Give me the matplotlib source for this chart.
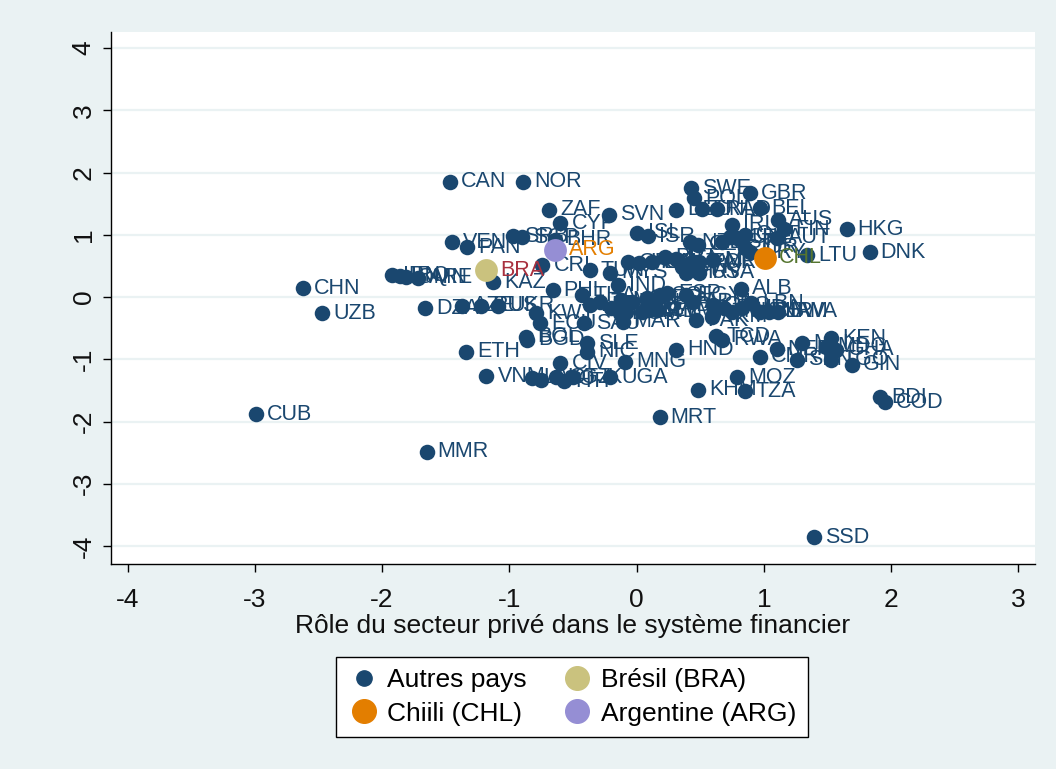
import matplotlib
matplotlib.use("Agg")
import matplotlib.pyplot as plt
from matplotlib.lines import Line2D

plt.rcParams['font.family'] = ['Liberation Sans', 'DejaVu Sans']
plt.rcParams['axes.unicode_minus'] = False

# ---- data -------------------------------------------------------------
codes = ["CAN","NOR","CHN","UZB","CUB","MMR","SSD","MRT","BDI","COD","DNK","HKG","LTU",
         "GBR","SWE","POL","DEU","FRA","NLD","BEL","AUS","FIN","AUT","ZAF","SVN","CYP",
         "VEN","PAN","SRB","SGP","BHR","KAZ","CRI","PHL","IRN","IRQ","OMN","ARE","DZA",
         "AZE","RUS","UKR","KWT","ECU","BGD","BOL","ETH","VNM","LAO","LSO","KGZ","HTI",
         "TJK","UGA","CIV","MNG","SLE","NIC","SAU","MAR","HND","TCD","RWA","CMR","NER",
         "MLI","MDG","GHA","KEN","SEN","TGO","GIN","MOZ","KHM","TZA","ALB","ISL","ISR",
         "TUN","MYS","GRC","HUN","LVA","PRT","ITA","JPN","KOR","MLT","SVK","HRV","USA",
         "NZL","CZE","EST","LUX","CHE","IRL","URY","JOR","QAT","THA","LKA","TUR","MEX",
         "IDN","PER","COL","ESP","BRB","SLV","GTM","DOM","JAM","PNG","GAB","EGY","ARM",
         "GEO","BIH","MKD","MDA","LBN","BLR","NAM","BWA","PAK","TKM","IND"]
x_vals = [-1.47,-0.89,-2.62,-2.47,-2.99,-1.65,1.39,0.18,1.91,1.95,1.83,1.65,1.34,
          0.89,0.43,0.45,0.31,0.51,0.63,0.97,1.11,1.16,1.10,-0.69,-0.22,-0.60,
          -1.45,-1.33,-0.97,-0.90,-0.64,-1.13,-0.74,-0.66,-1.92,-1.86,-1.81,-1.72,-1.66,
          -1.37,-1.22,-1.09,-0.79,-0.76,-0.86,-0.87,-1.34,-1.18,-0.82,-0.75,-0.63,-0.57,
          -0.50,-0.21,-0.60,-0.09,-0.39,-0.39,-0.41,-0.11,0.31,0.62,0.67,0.97,1.10,
          1.30,1.49,1.57,1.53,1.26,1.53,1.69,0.79,0.48,0.85,0.82,0.00,0.09,
          -0.37,-0.21,-0.07,0.02,0.12,0.22,0.31,0.42,0.49,0.60,0.36,0.39,0.49,
          0.42,0.48,0.67,0.73,0.79,0.75,0.89,0.85,0.85,-0.43,-0.37,-0.29,-0.12,
          -0.04,0.08,0.18,0.24,0.04,0.09,0.16,-0.13,-0.08,-0.20,0.14,0.39,0.44,
          0.60,0.69,0.75,0.83,0.90,0.97,1.04,1.11,0.47,0.59,-0.15]
y_vals = [1.85,1.85,0.14,-0.26,-1.88,-2.49,-3.86,-1.93,-1.61,-1.69,0.72,1.09,0.67,
          1.67,1.75,1.59,1.40,1.41,1.41,1.43,1.24,1.09,0.95,1.40,1.32,1.19,
          0.88,0.80,0.98,0.96,0.92,0.24,0.51,0.11,0.35,0.34,0.32,0.31,-0.18,
          -0.14,-0.14,-0.14,-0.26,-0.42,-0.69,-0.64,-0.88,-1.27,-1.30,-1.33,-1.29,-1.35,
          -1.29,-1.29,-1.06,-1.04,-0.74,-0.88,-0.42,-0.40,-0.85,-0.63,-0.69,-0.96,-0.84,
          -0.74,-0.80,-0.85,-0.66,-1.01,-1.01,-1.09,-1.29,-1.49,-1.51,0.13,1.03,0.98,
          0.43,0.39,0.56,0.55,0.56,0.64,0.61,0.55,0.56,0.59,0.48,0.39,0.39,
          0.88,0.84,0.88,0.96,0.95,1.16,0.72,0.79,1.00,0.03,-0.13,-0.08,-0.05,
          -0.08,-0.02,0.03,0.06,-0.24,-0.21,-0.21,-0.26,-0.24,-0.18,-0.13,0.03,-0.08,
          -0.13,-0.18,-0.24,-0.18,-0.10,-0.24,-0.24,-0.24,-0.37,-0.32,0.19]

bra_x, bra_y = [-1.18], [0.43]
chl_x, chl_y = [1.01], [0.63]
arg_x, arg_y = [-0.64], [0.76]

x_ticks = [-4, -3, -2, -1, 0, 1, 2, 3]
y_ticks = [4, 3, 2, 1, 0, -1, -2, -3, -4]
x_title = "Rôle du secteur privé dans le système financier"
legend_labels = ["Autres pays", "Brésil (BRA)", "Chiili (CHL)", "Argentine (ARG)"]

# ---- style ------------------------------------------------------------
NAVY = "#1A476F"
KHAKI = "#CAC27E"
ORANGE = "#E37E00"
LAVENDER = "#958ED4"
MAROON = "#A8303E"
GREEN = "#55752F"
BG = "#EAF2F3"
FS = 15.5
BIG = 19

fig = plt.figure(figsize=(10.56, 7.69), dpi=100, facecolor=BG)
ax = fig.add_axes([111/1056, 1-564/769, (1035-111)/1056, (564-32)/769])
ax.set_facecolor("white")
ax.set_xlim(-4.13, 3.13)
ax.set_ylim(-4.29, 4.26)

for yt in y_ticks:
    ax.axhline(yt, color=BG, lw=1.6, zorder=0)

ax.scatter(x_vals, y_vals, s=125, color=NAVY, zorder=3, linewidths=0)
for c, xv, yv in zip(codes, x_vals, y_vals):
    ax.annotate(c, (xv, yv), xytext=(8, 0), textcoords="offset points",
                va="center", ha="left", fontsize=FS, color=NAVY, zorder=4)

specials = [(bra_x, bra_y, KHAKI, "BRA", MAROON),
            (chl_x, chl_y, ORANGE, "CHL", GREEN),
            (arg_x, arg_y, LAVENDER, "ARG", ORANGE)]
for sx, sy, mc, lab, lc in specials:
    ax.scatter(sx, sy, s=270, color=mc, zorder=5, linewidths=0)
    ax.annotate(lab, (sx[0], sy[0]), xytext=(10, 0), textcoords="offset points",
                va="center", ha="left", fontsize=FS, color=lc, zorder=6)

ax.set_xticks(x_ticks)
ax.set_yticks(y_ticks)
ax.tick_params(axis="both", direction="out", length=6, width=1, colors="black",
               labelsize=BIG, labelcolor="#111111")
ax.tick_params(axis="x", pad=11)
ax.tick_params(axis="y", pad=5)
for lab in ax.get_yticklabels():
    lab.set_rotation(90)
    lab.set_va("center")

for side in ["top", "right"]:
    ax.spines[side].set_visible(False)
for side in ["left", "bottom"]:
    ax.spines[side].set_color("black")
    ax.spines[side].set_linewidth(1)

ax.set_xlabel(x_title, fontsize=BIG, color="#111111", labelpad=2)

handles = [
    Line2D([], [], marker="o", ls="", color=NAVY, markersize=11),
    Line2D([], [], marker="o", ls="", color=ORANGE, markersize=17),
    Line2D([], [], marker="o", ls="", color=KHAKI, markersize=17),
    Line2D([], [], marker="o", ls="", color=LAVENDER, markersize=17),
]
labels = [legend_labels[0], legend_labels[2], legend_labels[1], legend_labels[3]]
leg = fig.legend(handles, labels, ncol=2, loc="center",
                 bbox_to_anchor=(572/1056, 1-697/769), fontsize=BIG,
                 frameon=True, fancybox=False, edgecolor="black",
                 facecolor="white", framealpha=1,
                 handletextpad=0.3, columnspacing=1.3, labelspacing=0.35,
                 borderpad=0.45, handlelength=1.2)
leg.get_frame().set_linewidth(1)

fig.savefig("out.png", dpi=100, facecolor=BG)
